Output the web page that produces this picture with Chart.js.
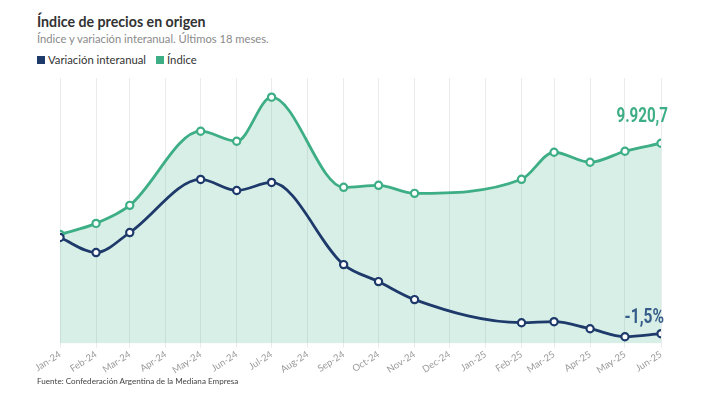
<!DOCTYPE html>
<html>
<head>
<meta charset="utf-8">
<script src="https://cdn.jsdelivr.net/npm/chart.js@4/dist/chart.umd.min.js"></script>
<style>
  html, body { margin: 0; padding: 0; background: #fff; }
  body { width: 706px; height: 397px; position: relative; overflow: hidden; font-family: Lato, "Noto Sans", sans-serif; }
  #title { position: absolute; left: 37px; top: 13px; font-size: 14.2px; font-weight: 700; color: #333; }
  #subtitle { position: absolute; left: 37px; top: 32px; font-size: 11.2px; color: #8a8a8a; }
  #legend { position: absolute; left: 37px; top: 53px; font-size: 11.3px; color: #333; display: flex; align-items: center; }
  #legend span.sw { display: inline-block; width: 8px; height: 8px; margin-right: 3px; }
  #legend span.item { display: inline-flex; align-items: center; margin-right: 10px; }
  #source { position: absolute; left: 37px; top: 376px; font-size: 8.1px; color: #444; }
  #wrap { position: absolute; left: 0; top: 0; width: 706px; height: 397px; }
</style>
</head>
<body>
<div id="title">Índice de precios en origen</div>
<div id="subtitle">Índice y variación interanual. Últimos 18 meses.</div>
<div id="legend"></div>
<div id="wrap"><canvas id="c" width="706" height="397"></canvas></div>
<div id="source">Fuente: Confederación Argentina de la Mediana Empresa</div>
<script>
// ---- Data ----
const monthLabels = ['Jan-24','Feb-24','Mar-24','Apr-24','May-24','Jun-24','Jul-24','Aug-24','Sep-24','Oct-24','Nov-24','Dec-24','Jan-25','Feb-25','Mar-25','Apr-25','May-25','Jun-25'];
const monthYears  = [2024,2024,2024,2024,2024,2024,2024,2024,2024,2024,2024,2024,2025,2025,2025,2025,2025,2025];
const monthIndex  = [0,1,2,3,4,5,6,7,8,9,10,11,0,1,2,3,4,5];
const indiceValues    = [5406, 5952, 6845, null, 10515, 10019, 12202, null, 7738, 7837, 7440, null, null, 8134, 9474, 8978, 9523, 9920.7];
const variacionValues = [158.5, 133.5, 166.8, null, 255.2, 236.8, 250.2, null, 113.5, 85.2, 55.2, null, null, 16.8, 18.5, 6.8, -6.5, -1.5];
const seriesNames = ['Variación interanual', 'Índice'];

const NAVY = '#1e3a6b';
const GREEN = '#3dae85';

const monthTimes = monthLabels.map((_, i) => Date.UTC(monthYears[i], monthIndex[i], 1));
const toPoints = vals => vals.map((v, i) => ({ x: monthTimes[i], y: v }));

// legend
const legendEl = document.getElementById('legend');
[[seriesNames[0], NAVY], [seriesNames[1], GREEN]].forEach(([n, c]) => {
  const it = document.createElement('span'); it.className = 'item';
  it.innerHTML = '<span class="sw" style="background:' + c + '"></span>' + n;
  legendEl.appendChild(it);
});

const fmtIdx = v => v.toLocaleString('es-AR', { minimumFractionDigits: 1, maximumFractionDigits: 1 });
const fmtPct = v => v.toLocaleString('es-AR', { minimumFractionDigits: 1, maximumFractionDigits: 1 }) + '%';

function condensedText(ctx, text, rightX, baseY, sx) {
  ctx.save();
  ctx.translate(rightX, baseY);
  ctx.scale(sx, 1);
  ctx.textAlign = 'right';
  ctx.textBaseline = 'alphabetic';
  ctx.fillText(text, 0, 0);
  ctx.restore();
}

const endLabels = {
  id: 'endLabels',
  afterDatasetsDraw(chart) {
    const ctx = chart.ctx;
    chart.data.datasets.forEach((ds, di) => {
      const meta = chart.getDatasetMeta(di);
      const pts = meta.data;
      const last = pts[pts.length - 1];
      const val = ds.data[ds.data.length - 1].y;
      ctx.save();
      if (ds.yAxisID === 'yIdx') {
        ctx.font = 'bold 21px Roboto, "DejaVu Sans", sans-serif';
        ctx.fillStyle = GREEN;
        condensedText(ctx, fmtIdx(val), last.x + 7, last.y - 21, 0.72);
      } else {
        ctx.font = 'bold 19.5px Roboto, "DejaVu Sans", sans-serif';
        ctx.fillStyle = '#355c88';
        condensedText(ctx, fmtPct(val), last.x + 3, last.y - 11, 0.8);
      }
      ctx.restore();
    });
  }
};

new Chart(document.getElementById('c'), {
  type: 'line',
  data: {
    datasets: [
      {
        label: seriesNames[0],
        data: toPoints(variacionValues),
        yAxisID: 'yVar',
        borderColor: NAVY,
        backgroundColor: NAVY,
        borderWidth: 2.8,
        pointRadius: 3.6,
        pointBorderWidth: 2.2,
        pointBackgroundColor: '#fff',
        pointBorderColor: NAVY,
        cubicInterpolationMode: 'monotone',
        spanGaps: true,
        fill: false,
        order: 0
      },
      {
        label: seriesNames[1],
        data: toPoints(indiceValues),
        yAxisID: 'yIdx',
        borderColor: GREEN,
        backgroundColor: 'rgba(61,174,133,0.2)',
        borderWidth: 2.8,
        pointRadius: 3.6,
        pointBorderWidth: 2.2,
        pointBackgroundColor: '#fff',
        pointBorderColor: GREEN,
        cubicInterpolationMode: 'monotone',
        spanGaps: true,
        fill: 'origin',
        order: 1
      }
    ]
  },
  options: {
    responsive: false,
    animation: false,
    devicePixelRatio: 1,
    layout: { padding: { left: 60, right: 45, top: 78, bottom: 20 } },
    plugins: { legend: { display: false }, tooltip: { enabled: false } },
    scales: {
      x: {
        type: 'linear',
        min: monthTimes[0],
        max: monthTimes[monthTimes.length - 1],
        afterBuildTicks(axis) { axis.ticks = monthTimes.map(t => ({ value: t })); },
        grid: { color: '#ebebeb', lineWidth: 1, drawTicks: true, tickLength: 4 },
        border: { display: false },
        ticks: {
          autoSkip: false,
          maxRotation: 33,
          minRotation: 33,
          padding: 1,
          color: '#9a9a9a',
          font: { family: 'Lato, "Noto Sans", sans-serif', size: 9.5 },
          callback(v) { const i = monthTimes.indexOf(v); return i >= 0 ? monthLabels[i] : ''; }
        }
      },
      yIdx: { display: false, min: 0, max: 13150 },
      yVar: { display: false, min: -18, max: 424 }
    }
  },
  plugins: [endLabels]
});
</script>
</body>
</html>
